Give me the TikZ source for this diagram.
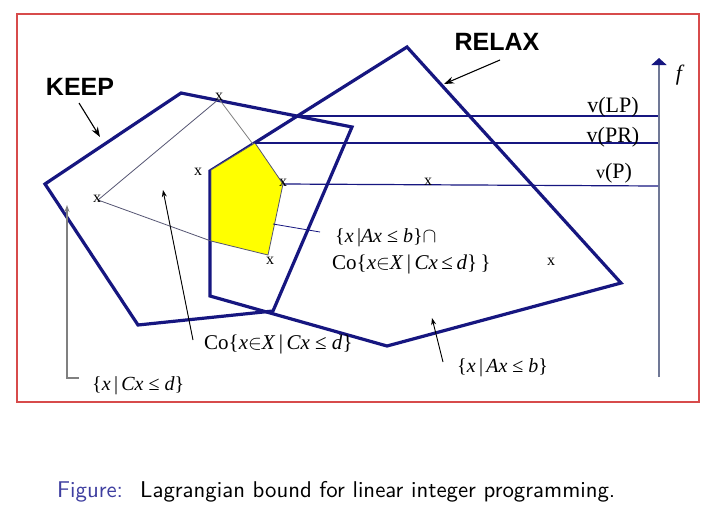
\documentclass[tikz,border=0pt]{standalone}
\usepackage{fontspec}
\setmainfont{Liberation Serif}
\newfontfamily\arialfont{Liberation Sans}
\newfontfamily\capfont{lmsans10-regular.otf}
\usetikzlibrary{arrows.meta}
\definecolor{navy}{RGB}{22,22,128}
\definecolor{framered}{RGB}{215,75,75}
\definecolor{axisc}{RGB}{112,120,150}
\definecolor{capblue}{RGB}{62,62,160}
\definecolor{hullc}{RGB}{85,85,115}
\definecolor{yel}{RGB}{255,255,0}
\tikzset{
  poly/.style={draw=navy, line width=3.2pt, line join=miter},
  level/.style={draw=navy, line width=1.2pt},
  hull/.style={draw=hullc, line width=0.8pt},
  ptr/.style={draw=black, line width=0.9pt, -{Stealth[length=7pt,width=5pt]}},
  bigptr/.style={draw=black, line width=1.1pt, -{Stealth[length=10pt,width=7pt]}},
  xm/.style={font=\fontsize{16}{16}\selectfont, inner sep=0pt},
  big/.style={font=\arialfont\bfseries\fontsize{25}{25}\selectfont, inner sep=0pt},
  vlab/.style={font=\fontsize{22}{22}\selectfont, inner sep=0pt, anchor=base},
  setlab/.style={font=\fontsize{20}{20}\selectfont, inner sep=0pt, anchor=base west},
  caplab/.style={font=\capfont\fontsize{22.8}{22.8}\selectfont, inner sep=0pt, anchor=base west}
}
\begin{document}
\begin{tikzpicture}[x=1pt,y=-1pt]
\useasboundingbox (0,0) rectangle (720,515);
\fill[white] (0,0) rectangle (720,515);
% frame
\draw[framered, line width=1.2pt] (17,14) rectangle (699,402);

% RELAX polygon
\coordinate (r1) at (407,47);
\coordinate (r2) at (621,283);
\coordinate (r3) at (387,346);
\coordinate (r4) at (210,296);
\coordinate (r5) at (210,171);
\draw[poly] (r1) -- (r2) -- (r3) -- (r4) -- (r5) -- cycle;

% KEEP polygon
\coordinate (k1) at (181,93);
\coordinate (k2) at (352,127);
\coordinate (k3) at (273,311);
\coordinate (k4) at (138,325);
\coordinate (k5) at (45,184);
\draw[poly] (k1) -- (k2) -- (k3) -- (k4) -- (k5) -- cycle;

% hull points
\coordinate (h1) at (219,99);
\coordinate (h2) at (98,200);
\coordinate (y1) at (211,170);
\coordinate (y2) at (255,143);
\coordinate (y3) at (283,184);
\coordinate (y4) at (268,255);
\coordinate (y5) at (211,241);
\draw[hull] (h1) -- (h2);
\draw[hull, draw=gray] (h1) -- (y3);
\draw[hull] (h2) -- (y5);

% yellow region
\filldraw[fill=yel, draw=hullc, line width=0.8pt] (y1) -- (y2) -- (y3) -- (y4) -- (y5) -- cycle;

% axis
\coordinate (abot) at (659,377);
\coordinate (atop) at (659,58);
\draw[axisc, line width=2pt, -{Triangle[length=7pt,width=15pt,fill=navy,color=navy]}] (abot) -- (atop);
\node[font=\itshape\fontsize{22}{22}\selectfont, inner sep=0pt] (f) at (679,75) {f};

% level lines
\coordinate (lp) at (297,116);
\coordinate (lpe) at (658,116);
\coordinate (pre) at (658,143);
\coordinate (pe) at (658,186);
\draw[level] (lp) -- (lpe);
\draw[level] (y2) -- (pre);
\draw[level] (y3) -- (pe);
\node[vlab] (vlp) at (613,112) {v(LP)};
\node[vlab] (vpr) at (613,142) {v(PR)};
\node[vlab] (vp) at (614,178) {{\fontsize{18}{18}\selectfont v}(P)};

% x marks
\node[xm] (x1) at (219,97) {x};
\node[xm] (x2) at (97,199) {x};
\node[xm] (x3) at (198,172) {x};
\node[xm] (x4) at (283,183) {x};
\node[xm] (x5) at (270,261) {x};
\node[xm] (x6) at (428,182) {x};
\node[xm] (x7) at (551,262) {x};

% KEEP / RELAX
\node[big] (keep) at (80,87) {KEEP};
\node[big] (relax) at (497,42) {RELAX};
\coordinate (ka) at (79,103);
\coordinate (kb) at (100,137);
\draw[bigptr] (ka) -- (kb);
\coordinate (ra) at (500,60);
\coordinate (rb) at (444,84);
\draw[bigptr] (ra) -- (rb);

% labels
\node[setlab] (lab1) at (335,242) {\{\textit{x}\,|\textit{Ax} ≤ \textit{b}\}$\cap$};
\node[setlab, font=\fontsize{21}{21}\selectfont] (lab2) at (332,269) {Co\{\textit{x}$\in$\textit{X}\,|\,\textit{Cx}\,≤\,\textit{d}\}\,\}};
\coordinate (p1) at (273,224);
\coordinate (p2) at (320,232);
\draw[hull, draw=navy] (p1) -- (p2);

\node[setlab, font=\fontsize{21}{21}\selectfont] (lab3) at (204,349) {Co\{\textit{x}$\in$\textit{X}\,|\,\textit{Cx} ≤ \textit{d}\}};
\coordinate (c1) at (193,340);
\coordinate (c2) at (163,190);
\draw[ptr] (c1) -- (c2);

\node[setlab] (lab4) at (92,390) {\{\textit{x}\,|\,\textit{Cx} ≤ \textit{d}\}};
\coordinate (g1) at (79,378);
\coordinate (g2) at (67,205);
\draw[ptr, draw=gray, line width=1.2pt] (g1) -| (g2);

\node[setlab] (lab5) at (457,372) {\{\textit{x}\,|\,\textit{Ax} ≤ \textit{b}\}};
\coordinate (a1) at (443,362);
\coordinate (a2) at (432,318);
\draw[ptr] (a1) -- (a2);

% caption
\node[caplab, text=capblue] (figw) at (57,497) {Figure:};
\node[caplab] (cap) at (140,497) {Lagrangian bound for linear integer programming.};
\end{tikzpicture}
\end{document}
